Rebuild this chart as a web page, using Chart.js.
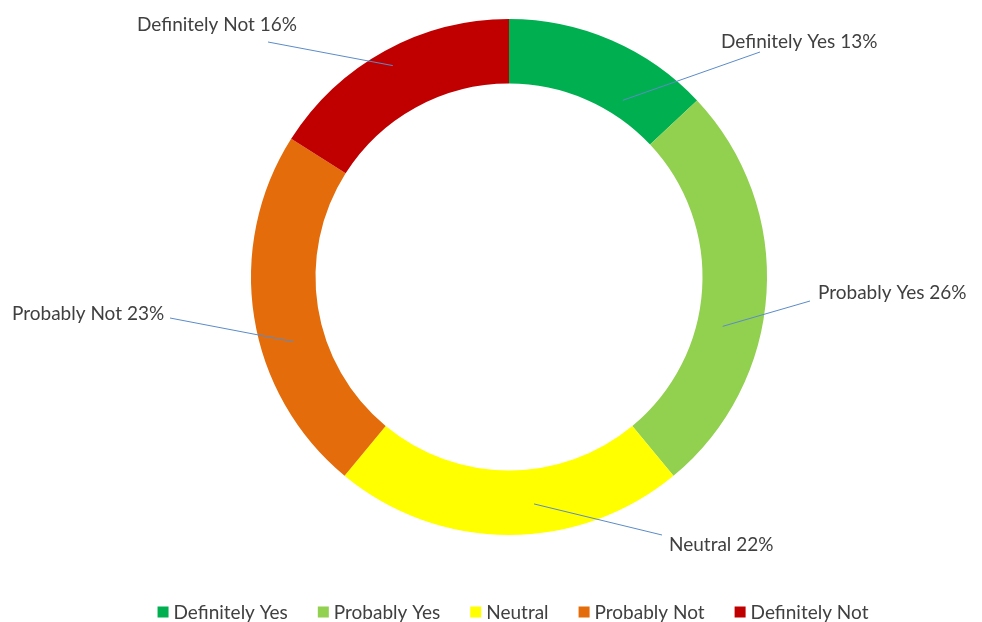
<!DOCTYPE html>
<html>
<head>
<meta charset="utf-8">
<title>Survey responses</title>
<script src="https://cdn.jsdelivr.net/npm/chart.js@4/dist/chart.umd.min.js"></script>
<style>
  html, body { margin: 0; padding: 0; background: #fff; }
  #wrap { width: 982px; height: 622px; position: relative; }
</style>
</head>
<body>
<div id="wrap"><canvas id="surveyChart"></canvas></div>
<script>
// response categories and their share of answers (%)
const categories = ['Definitely Yes', 'Probably Yes', 'Neutral', 'Probably Not', 'Definitely Not'];
const shares = [13, 26, 22, 23, 16];
const sliceColors = ['#00B050', '#92D050', '#FFFF00', '#E46C0A', '#C00000'];

// callout placement: text anchor (left, middle), where the leader starts,
// an angle nudge (deg) and how far across the ring (0 = inner, 1 = outer) it ends
const calloutText = [[721, 42], [818, 293], [669, 545], [12, 314], [137, 25]];
const calloutStart = [[760, 52], [810, 301], [662, 535], [170, 318], [268, 42]];
const calloutNudge = [9.4, 9.4, -6.3, -7.7, 0];
const calloutDepth = [0.26, 0.4, 0.54, 0.49, 0.74];

const FONT = '19px Lato, "Open Sans", sans-serif';
const TEXT_COLOR = '#404040';

// draws the "Name NN%" callouts with leader lines, plus the legend row
const calloutPlugin = {
    id: 'callouts',
    afterDatasetsDraw(chart) {
        const ctx = chart.ctx;
        const meta = chart.getDatasetMeta(0);
        ctx.save();
        ctx.font = FONT;
        ctx.textBaseline = 'middle';
        ctx.textAlign = 'left';

        meta.data.forEach((arc, i) => {
            const p = arc.getProps(['x', 'y', 'startAngle', 'endAngle', 'innerRadius', 'outerRadius'], true);
            const mid = (p.startAngle + p.endAngle) / 2 + calloutNudge[i] * Math.PI / 180;
            const r = p.innerRadius + (p.outerRadius - p.innerRadius) * calloutDepth[i];
            const ax = p.x + Math.cos(mid) * r;
            const ay = p.y + Math.sin(mid) * r;

            ctx.strokeStyle = '#5B8BC9';
            ctx.lineWidth = 1;
            ctx.beginPath();
            ctx.moveTo(calloutStart[i][0], calloutStart[i][1]);
            ctx.lineTo(ax, ay);
            ctx.stroke();

            ctx.fillStyle = TEXT_COLOR;
            ctx.fillText(categories[i] + ' ' + shares[i] + '%', calloutText[i][0], calloutText[i][1]);
        });

        // legend row along the bottom
        const box = 11, boxGap = 5, itemGap = 30, rowY = 612;
        const widths = categories.map(c => box + boxGap + ctx.measureText(c).width);
        const total = widths.reduce((a, b) => a + b, 0) + itemGap * (categories.length - 1);
        let x = chart.chartArea.left + chart.chartArea.width / 2 - total / 2 + 4;
        categories.forEach((c, i) => {
            ctx.fillStyle = sliceColors[i];
            ctx.fillRect(x, rowY - box / 2, box, box);
            ctx.fillStyle = TEXT_COLOR;
            ctx.fillText(c, x + box + boxGap, rowY + 1);
            x += widths[i] + itemGap;
        });
        ctx.restore();
    }
};

const ctx = document.getElementById('surveyChart').getContext('2d');
new Chart(ctx, {
    type: 'doughnut',
    data: {
        labels: categories,
        datasets: [{
            data: shares,
            backgroundColor: sliceColors,
            borderWidth: 0
        }]
    },
    options: {
        responsive: true,
        maintainAspectRatio: false,
        animation: false,
        cutout: '75%',
        layout: { padding: { top: 19, bottom: 87, left: 36, right: 0 } },
        plugins: {
            legend: { display: false },
            tooltip: { enabled: false }
        }
    },
    plugins: [calloutPlugin]
});
</script>
</body>
</html>
